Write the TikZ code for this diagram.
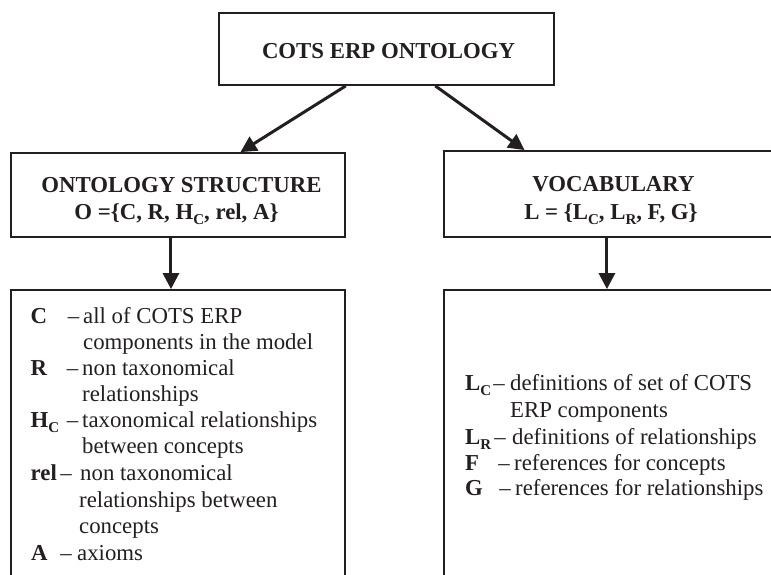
\documentclass[tikz,border=0pt]{standalone}
\usepackage{fontspec}
\setmainfont{Liberation Serif}
\usetikzlibrary{arrows.meta,calc}
\definecolor{ink}{RGB}{35,31,32}
\newcommand{\sbs}[1]{\raisebox{-0.22em}{\fontsize{15}{15}\selectfont #1}}
\begin{document}
\begin{tikzpicture}[x=1pt,y=-1pt,
  box/.style={draw=ink, line width=1.8pt, rectangle, inner sep=0pt},
  txt/.style={inner sep=0pt, anchor=base west, text=ink, font=\fontsize{22.8}{26.7}\selectfont},
  lab/.style={txt, font=\fontsize{22.8}{26.7}\selectfont\bfseries},
  dsh/.style={inner sep=0pt, anchor=base east, text=ink, font=\fontsize{22.8}{26.7}\selectfont},
  head/.style={inner sep=0pt, anchor=base, text=ink, font=\fontsize{22.8}{26.7}\selectfont\bfseries},
  arr/.style={draw=ink, line width=3pt, -{Triangle[length=16pt,width=16pt]}}]
\useasboundingbox (0,0) rectangle (771,575);
\clip (0,0) rectangle (771,575);

% boxes
\node[box, minimum width=335pt, minimum height=72pt] (top) at (386.5,49) {};
\node[box, minimum width=334pt, minimum height=84pt] (struct) at (178,195) {};
\node[box, minimum width=336pt, minimum height=86pt] (vocab) at (612,194) {};
\node[box, minimum width=334pt, minimum height=320pt] (sdefs) at (178,450) {};
\node[box, minimum width=336pt, minimum height=320pt] (vdefs) at (612,450) {};

% headings
\node[head] (toptxt) at (388.5,59) {COTS ERP ONTOLOGY};
\node[head] (st1) at (181.5,192) {ONTOLOGY STRUCTURE};
\node[head] (st2) at (176.5,219) {O =\{C, R, H\sbs{C}, rel, A\}};
\node[head] (vo1) at (613.5,191) {VOCABULARY};
\node[head] (vo2) at (611,219) {L = \{L\sbs{C}, L\sbs{R}, F, G\}};

% arrows
\draw[arr] ($(top.south west)!0.379!(top.south east)$) -- ($(struct.north west)!0.686!(struct.north east)$);
\draw[arr] ($(top.south west)!0.645!(top.south east)$) -- ($(vocab.north west)!0.241!(vocab.north east)$);
\draw[arr] ($(struct.south west)!0.479!(struct.south east)$) -- ($(sdefs.north west)!0.479!(sdefs.north east)$);
\draw[arr] ($(vocab.south west)!0.485!(vocab.south east)$) -- ($(vdefs.north west)!0.485!(vdefs.north east)$);

% left definitions
\node[lab] (c1) at (30.5,323) {C};
\node[dsh] (c1d) at (79.5,323) {–};
\node[txt] (c1t) at (83,323) {all of COTS ERP};
\node[txt] (c2t) at (83,349) {components in the model};
\node[lab] (r1) at (30.5,375) {R};
\node[dsh] (r1d) at (78.5,375) {–};
\node[txt] (r1t) at (82,375) {non taxonomical};
\node[txt] (r2t) at (82,401) {relationships};
\node[lab] (h1) at (30.5,427) {H\sbs{C}};
\node[dsh] (h1d) at (78.5,427) {–};
\node[txt] (h1t) at (82,427) {taxonomical relationships};
\node[txt] (h2t) at (82,453) {between concepts};
\node[lab] (e1) at (30.5,480) {rel};
\node[dsh] (e1d) at (72,480) {–};
\node[txt] (e1t) at (80,480) {non taxonomical};
\node[txt] (e2t) at (79,507) {relationships between};
\node[txt] (e3t) at (79,533) {concepts};
\node[lab] (a1) at (31,560) {A};
\node[dsh] (a1d) at (72,560) {–};
\node[txt] (a1t) at (77,560) {axioms};

% right definitions
\node[lab] (lc1) at (465,390) {L\sbs{C}};
\node[dsh] (lc1d) at (505,390) {–};
\node[txt] (lc1t) at (510,390) {definitions of set of COTS};
\node[txt] (lc2t) at (510,417) {ERP components};
\node[lab] (lr1) at (465,444) {L\sbs{R}};
\node[dsh] (lr1d) at (506,444) {–};
\node[txt] (lr1t) at (512,444) {definitions of relationships};
\node[lab] (f1) at (465,470) {F};
\node[dsh] (f1d) at (510,470) {–};
\node[txt] (f1t) at (514,470) {references for concepts};
\node[lab] (g1) at (465,495) {G};
\node[dsh] (g1d) at (511,495) {–};
\node[txt] (g1t) at (515,495) {references for relationships};
\end{tikzpicture}
\end{document}
